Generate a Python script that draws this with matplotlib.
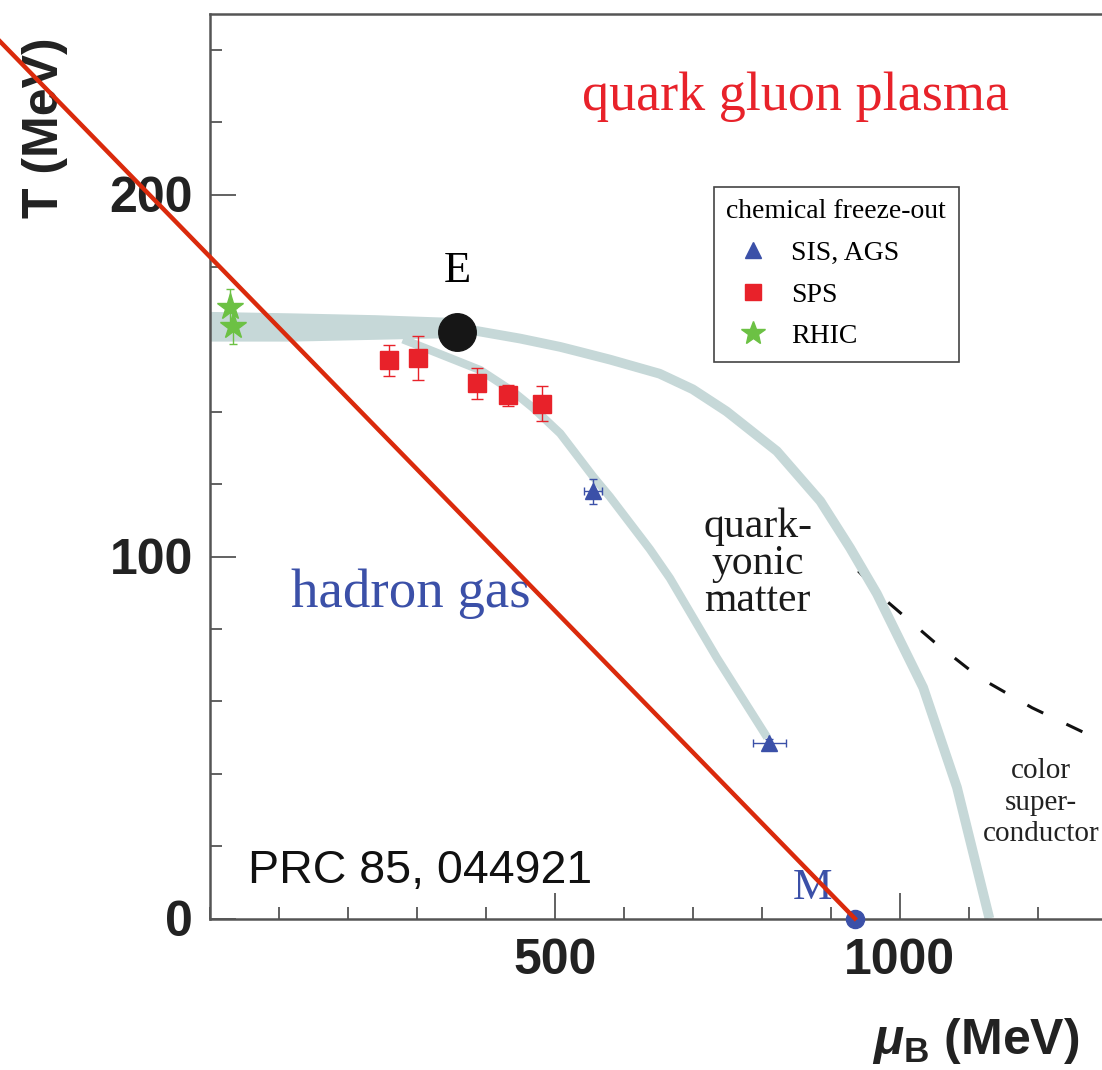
import matplotlib
matplotlib.use("Agg")
import matplotlib.pyplot as plt
from matplotlib.lines import Line2D
from matplotlib.ticker import MultipleLocator

# chemical freeze-out data (mu_B in MeV, T in MeV)
rhic_mu = [29, 34]
rhic_T = [169, 163.6]
rhic_Terr = [5, 5]

sps_mu = [260, 302, 387, 433, 481]
sps_T = [154.2, 154.8, 147.8, 144.5, 142.2]
sps_Terr = [4.3, 6.0, 4.4, 3.0, 4.8]

sis_mu = [555, 811]
sis_T = [118, 48.6]
sis_Terr = [3.5, 1.0]
sis_muerr = [13, 24]

# critical end point E and nuclear matter point M
e_mu, e_T = [359], [162]
m_mu, m_T = [935], [0]

# crossover band (mu, lower edge, upper edge)
band_mu = [0, 120, 240, 359]
band_lo = [159.5, 159.5, 160.0, 160.5]
band_hi = [167.7, 167.3, 166.8, 166.0]

# first order transition line from E
fo_mu = [359, 387, 450, 508, 537, 580, 652, 700, 749, 822, 885, 928, 967, 1034, 1083, 1130]
fo_T = [162.5, 162.3, 160.2, 157.9, 156.5, 154.4, 150.5, 146.2, 140.1, 129.1, 115.3,
        102.4, 89.7, 63.8, 36.2, 0]

# freeze-out curve
fz_mu = [280, 392, 440, 469, 508, 556, 580, 638, 667, 735, 808]
fz_T = [160.0, 151.5, 145.5, 141.0, 134.0, 122.0, 116.5, 102.0, 94.0, 72.0, 50.0]

# dashed color superconductor boundary
dash_mu = [940, 981, 1050, 1116, 1192, 1293]
dash_T = [96, 87.7, 76.4, 66.5, 58.2, 49]

# red straight line
red_mu = [-305, 935]
red_T = [242.5, 0]

BAND = "#c6d8d8"
BLUE = "#3b50a8"
RED = "#e8222a"
GREEN = "#6cc144"
SERIF = "Liberation Serif"
SANS = "Liberation Sans"

plt.rcParams["mathtext.fontset"] = "custom"
plt.rcParams["mathtext.rm"] = "Liberation Sans:bold"
plt.rcParams["mathtext.it"] = "Liberation Sans:italic:bold"
plt.rcParams["mathtext.bf"] = "Liberation Sans:bold"

W, H = 1102, 1070
fig = plt.figure(figsize=(W / 100, H / 100), dpi=100)
ax = fig.add_axes([209.7 / W, (H - 918.5) / H, 1300 * 0.69 / W, 905 / H])
ax.set_xlim(0, 1300)
ax.set_ylim(0, 250)

# phase boundaries
ax.fill_between(band_mu, band_lo, band_hi, color=BAND, lw=0, zorder=2)
ax.plot(fo_mu, fo_T, color=BAND, lw=7, solid_capstyle="butt",
        solid_joinstyle="round", zorder=2)
ax.plot(fz_mu, fz_T, color=BAND, lw=6, solid_capstyle="butt",
        solid_joinstyle="round", zorder=2)
ax.plot(dash_mu, dash_T, color="#111111", lw=2.2, dashes=(5.8, 8.4), zorder=1)

# freeze-out points
ax.errorbar(rhic_mu, rhic_T, yerr=rhic_Terr, fmt="*", ms=20, color=GREEN,
            elinewidth=1, capsize=3, zorder=4)
ax.errorbar(sps_mu, sps_T, yerr=sps_Terr, fmt="s", ms=13, color=RED,
            elinewidth=1, capsize=4, zorder=4)
ax.errorbar(sis_mu, sis_T, xerr=sis_muerr, yerr=sis_Terr, fmt="^", ms=11,
            color=BLUE, elinewidth=1, capsize=3, zorder=4)

ax.plot(e_mu, e_T, "o", ms=27, color="#161616", zorder=5)
ax.plot(m_mu, m_T, "o", ms=13, color=BLUE, clip_on=False, zorder=5)

ax.plot(red_mu, red_T, color="#da2a0c", lw=3.2, clip_on=False, zorder=10)

# region labels
ax.text(849, 227, "quark gluon plasma", color=RED, family=SERIF, fontsize=39,
        ha="center", va="center")
ax.text(359, 179, "E", family=SERIF, fontsize=32, ha="center", va="center")
ax.text(291, 89.8, "hadron gas", color=BLUE, family=SERIF, fontsize=39.5,
        ha="center", va="center")
ax.text(794, 98, "quark-\nyonic\nmatter", family=SERIF, fontsize=30,
        ha="center", va="center", linespacing=0.95, color="#1a1a1a")
ax.text(1205, 32, "color\nsuper-\nconductor", family=SERIF, fontsize=21,
        ha="center", va="center", linespacing=1.27, color="#222222")
ax.text(874, 8.5, "M", color=BLUE, family=SERIF, fontsize=32,
        ha="center", va="center")
ax.text(55, 13, "PRC 85, 044921", family=SANS, fontsize=33.5,
        ha="left", va="center", color="#111111")

# legend
handles = [
    Line2D([], [], ls="none", marker="^", ms=12, color=BLUE),
    Line2D([], [], ls="none", marker="s", ms=12, color=RED),
    Line2D([], [], ls="none", marker="*", ms=18, color=GREEN),
]
leg = ax.legend(handles, ["SIS, AGS", "SPS", "RHIC"], title="chemical freeze-out",
                loc="upper left", bbox_to_anchor=(714 / W, 1 - 187 / H),
                bbox_transform=fig.transFigure, prop={"family": SERIF, "size": 20},
                title_fontproperties={"family": SERIF, "size": 20},
                alignment="left", fancybox=False, framealpha=1, edgecolor="#444444",
                borderpad=0.45, labelspacing=0.58, handlelength=1.9, handletextpad=0.43,
                borderaxespad=0)
leg.get_frame().set_linewidth(1.2)
leg.set_zorder(6)

# axes styling
for side in ["left", "bottom", "top"]:
    ax.spines[side].set_color("#555555")
    ax.spines[side].set_linewidth(1.8)
ax.spines["right"].set_visible(False)

ax.set_xticks([500, 1000])
ax.set_yticks([0, 100, 200])
ax.xaxis.set_minor_locator(MultipleLocator(100))
ax.yaxis.set_minor_locator(MultipleLocator(20))
ax.tick_params(which="both", direction="in", color="#555555", width=1.3,
               top=False, right=False)
ax.tick_params(which="major", length=19)
ax.tick_params(which="minor", length=8.6)
ax.tick_params(axis="y", pad=12)
ax.tick_params(axis="x", pad=14)
for lab in ax.get_xticklabels() + ax.get_yticklabels():
    lab.set_family(SANS)
    lab.set_fontweight("bold")
    lab.set_fontsize(36)
    lab.set_color("#222222")

ax.set_ylabel("T (MeV)", family=SANS, fontweight="bold", fontsize=36, color="#222222")
ax.yaxis.set_label_coords((45 - 209.7) / (1300 * 0.69), (918.5 - 128) / 905)
ax.yaxis.label.set(va="center", ha="center")
ax.set_xlabel(r"$\mu_{\mathrm{B}}$ (MeV)", family=SANS, fontweight="bold",
              fontsize=36, color="#222222")
ax.xaxis.set_label_coords((976 - 209.7) / (1300 * 0.69), (918.5 - 1041) / 905)
ax.xaxis.label.set(va="center", ha="center")

fig.savefig("out.png", dpi=100)
